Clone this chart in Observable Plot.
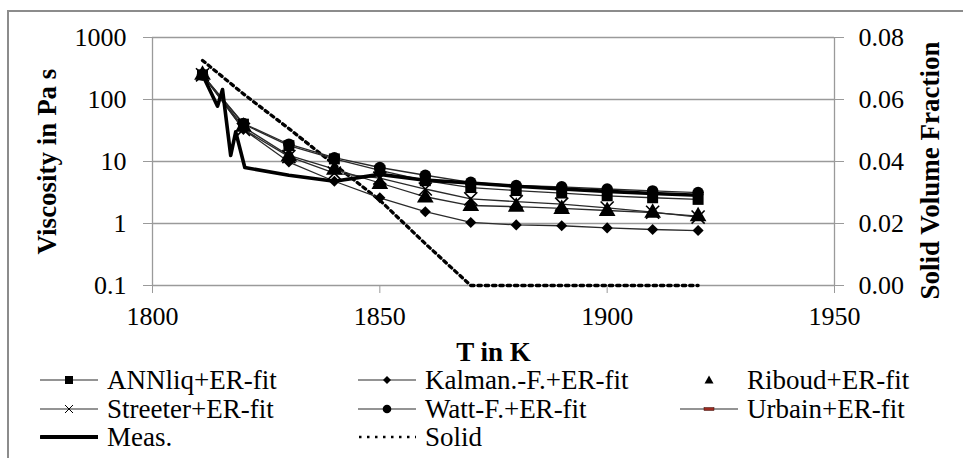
<!DOCTYPE html>
<html>
<head>
<meta charset="utf-8">
<script src="https://cdn.jsdelivr.net/npm/d3@7"></script>
<script src="https://cdn.jsdelivr.net/npm/@observablehq/plot@0.6"></script>
<style>
  html, body { margin: 0; padding: 0; background: #fff; overflow: hidden; }
  #wrap { position: relative; width: 963px; height: 458px; font-family: "Liberation Serif", "Times New Roman", "DejaVu Serif", "Noto Serif", serif; }
  #frame { position: absolute; left: 7px; top: 10px; width: 1000px; height: 500px; border-left: 2px solid #8c8c8c; border-top: 2px solid #8c8c8c; }
  #chart { position: absolute; left: 0; top: 0; }
  .leg { position: absolute; height: 30px; display: flex; align-items: center; font-size: 27px; white-space: nowrap; color: #000; }
  .leg svg { display: block; margin-right: 9px; }
</style>
</head>
<body>
<div id="wrap"><div id="frame"></div><div id="chart"></div><div id="legend"></div></div>
<script>
// ---- data ----
const T = [1811, 1820, 1830, 1840, 1850, 1860, 1870, 1880, 1890, 1900, 1910, 1920];
const annliq   = [250, 40, 18, 11, 7.2, 4.9, 3.8, 3.4, 3.1, 2.8, 2.6, 2.45];
const kalman   = [250, 33, 9.8, 4.8, 2.6, 1.55, 1.04, 0.95, 0.92, 0.85, 0.80, 0.77];
const riboud   = [250, 36, 12, 7.3, 4.3, 2.6, 1.9, 1.85, 1.7, 1.58, 1.48, 1.3];
const streeter = [250, 33, 12, 6.5, 5.4, 3.6, 2.5, 2.25, 2.05, 1.78, 1.52, 1.27];
const watt     = [250, 41, 19, 11.5, 8, 6, 4.6, 4.1, 3.9, 3.6, 3.35, 3.15];
const urbain   = [250, 36, 12.5, 7.5, 4.5, 2.7, 1.95, 1.87, 1.75, 1.62, 1.5, 1.32];
const measT    = [1811, 1814.3, 1815.4, 1817.2, 1818.3, 1820.3, 1830, 1840, 1850, 1860, 1870, 1880, 1890, 1900, 1910, 1920];
const meas     = [250, 78, 145, 12.5, 30, 8, 6, 4.8, 6.2, 5.0, 4.5, 4.0, 3.6, 3.3, 3.05, 2.85];
const solid    = [0.0726, 0.0618, 0.0506, 0.039, 0.0275, 0.0135, 0, 0, 0, 0, 0, 0];

const xTicks = [1800, 1850, 1900, 1950];
const yTicks = [0.1, 1, 10, 100, 1000];
const yTickLabels = ["0.1", "1", "10", "100", "1000"];
const fracTicks = [0, 0.02, 0.04, 0.06, 0.08];
const fracTickLabels = ["0.00", "0.02", "0.04", "0.06", "0.08"];
const legendLabels = ["ANNliq+ER-fit", "Kalman.-F.+ER-fit", "Riboud+ER-fit", "Streeter+ER-fit", "Watt-F.+ER-fit", "Urbain+ER-fit", "Meas.", "Solid"];

// secondary axis: map fraction (0..0.08) onto the log viscosity range
const fracToY = f => Math.pow(10, -1 + f / 0.02);
const rows = (xs, vals) => xs.map((t, i) => ({t, v: vals[i]}));

const lineColor = "#2a2a2a";
const grid = "#9a9a9a";
const serif = "'Liberation Serif', 'Times New Roman', 'DejaVu Serif', 'Noto Serif', serif";

const chart = Plot.plot({
  width: 963,
  height: 365,
  marginLeft: 152,
  marginRight: 129,
  marginTop: 37,
  marginBottom: 80,
  x: {domain: [1800, 1950]},
  y: {type: "log", domain: [0.1, 1000]},
  style: {fontFamily: serif, fontSize: "26px", color: "#000", background: "transparent", overflow: "visible"},
  marks: [
    Plot.ruleY(yTicks, {stroke: grid, strokeWidth: 1.3}),
    Plot.ruleX([xTicks[0], xTicks[xTicks.length - 1]], {stroke: grid, strokeWidth: 1.3}),
    Plot.axisY(yTicks, {anchor: "left", tickSize: 9, tickPadding: 17, stroke: grid, fill: "#000", label: null,
      tickFormat: d => yTickLabels[yTicks.indexOf(d)]}),
    Plot.axisY(fracTicks.map(fracToY), {anchor: "right", tickSize: 9, tickPadding: 15, stroke: grid, fill: "#000", label: null,
      tickFormat: d => fracTickLabels[Math.round((Math.log10(d) + 1))]}),
    Plot.axisX(xTicks, {anchor: "bottom", tickSize: 8, tickPadding: 13, stroke: grid, fill: "#000", label: null, tickFormat: d => String(d)}),
    Plot.text(["Viscosity in Pa s"], {frameAnchor: "left", dx: -105, rotate: -90, textAnchor: "middle", fontWeight: "bold", fontSize: 27, lineAnchor: "middle"}),
    Plot.text(["Solid Volume Fraction"], {frameAnchor: "right", dx: 96, dy: 9, rotate: -90, textAnchor: "middle", fontWeight: "bold", fontSize: 27, lineAnchor: "middle"}),
    Plot.text(["T in K"], {frameAnchor: "bottom", dy: 67, textAnchor: "middle", fontWeight: "bold", fontSize: 27, lineAnchor: "middle"}),
    // solid fraction (dotted)
    Plot.line(rows(T, solid), {x: "t", y: d => fracToY(d.v), stroke: "#000", strokeWidth: 3.3, strokeDasharray: "3.3,4"}),
    // model lines
    Plot.line(rows(T, urbain), {x: "t", y: "v", stroke: lineColor, strokeWidth: 1.3}),
    Plot.line(rows(T, kalman), {x: "t", y: "v", stroke: lineColor, strokeWidth: 1.3}),
    Plot.line(rows(T, streeter), {x: "t", y: "v", stroke: lineColor, strokeWidth: 1.3}),
    Plot.line(rows(T, annliq), {x: "t", y: "v", stroke: lineColor, strokeWidth: 1.3}),
    Plot.line(rows(T, watt), {x: "t", y: "v", stroke: lineColor, strokeWidth: 1.3}),
    Plot.line(rows(measT, meas), {x: "t", y: "v", stroke: "#000", strokeWidth: 3.6, strokeLinejoin: "round"}),
    // markers
    Plot.dot(rows(T, kalman), {x: "t", y: "v", symbol: "diamond2", r: 5, fill: "#000", stroke: "none"}),
    Plot.dot(rows(T, riboud), {x: "t", y: "v", symbol: "triangle", r: 6.2, fill: "#000", stroke: "none"}),
    Plot.dot(rows(T, streeter), {x: "t", y: "v", symbol: "times", r: 6, stroke: "#000", strokeWidth: 1.6, fill: "none"}),
    Plot.dot(rows(T, annliq), {x: "t", y: "v", symbol: "square", r: 6.2, fill: "#000", stroke: "none"}),
    Plot.dot(rows(T, watt), {x: "t", y: "v", symbol: "circle", r: 5.8, fill: "#000", stroke: "none"})
  ]
});
document.getElementById("chart").appendChild(chart);

// ---- legend (HTML) ----
const legendSpec = [
  {col: 0, row: 0, kind: "square"},
  {col: 1, row: 0, kind: "diamond"},
  {col: 2, row: 0, kind: "triangle"},
  {col: 0, row: 1, kind: "times"},
  {col: 1, row: 1, kind: "circle"},
  {col: 2, row: 1, kind: "urbain"},
  {col: 0, row: 2, kind: "thick"},
  {col: 1, row: 2, kind: "dotted"}
];
const colX = [40, 358, 680];
const rowY = [381, 410, 438];
function swatch(kind) {
  const w = 58, h = 20, c = h / 2, m = w / 2;
  let s = "";
  const thin = `<line x1="0" x2="${w}" y1="${c}" y2="${c}" stroke="${lineColor}" stroke-width="1.2"/>`;
  if (kind === "square") s = thin + `<rect x="${m-4}" y="${c-4}" width="8" height="8" fill="#000"/>`;
  if (kind === "diamond") s = thin + `<path d="M${m},${c-4}L${m+4},${c}L${m},${c+4}L${m-4},${c}Z" fill="#000"/>`;
  if (kind === "triangle") s = `<path d="M${m},${c-4.5}L${m+4.5},${c+3.5}L${m-4.5},${c+3.5}Z" fill="#000"/>`;
  if (kind === "times") s = thin + `<path d="M${m-4},${c-4}L${m+4},${c+4}M${m-4},${c+4}L${m+4},${c-4}" stroke="#000" stroke-width="1"/>`;
  if (kind === "circle") s = thin + `<circle cx="${m}" cy="${c}" r="4.3" fill="#000"/>`;
  if (kind === "urbain") s = thin + `<rect x="${m-5}" y="${c-1.5}" width="10" height="3" fill="#9b2a1f" stroke="#3a0d08" stroke-width="0.5"/>`;
  if (kind === "thick") s = `<line x1="1" x2="${w}" y1="${c}" y2="${c}" stroke="#000" stroke-width="4" stroke-linecap="round"/>`;
  if (kind === "dotted") s = `<line x1="1" x2="${w}" y1="${c}" y2="${c}" stroke="#000" stroke-width="2.5" stroke-dasharray="2.5,5.5"/>`;
  return `<svg width="${w}" height="${h}">${s}</svg>`;
}
const legend = document.getElementById("legend");
legendSpec.forEach((d, i) => {
  const el = document.createElement("div");
  el.className = "leg";
  el.style.left = colX[d.col] + "px";
  el.style.top = (rowY[d.row] - 16) + "px";
  el.innerHTML = swatch(d.kind) + `<span>${legendLabels[i]}</span>`;
  legend.appendChild(el);
});
</script>
</body>
</html>
